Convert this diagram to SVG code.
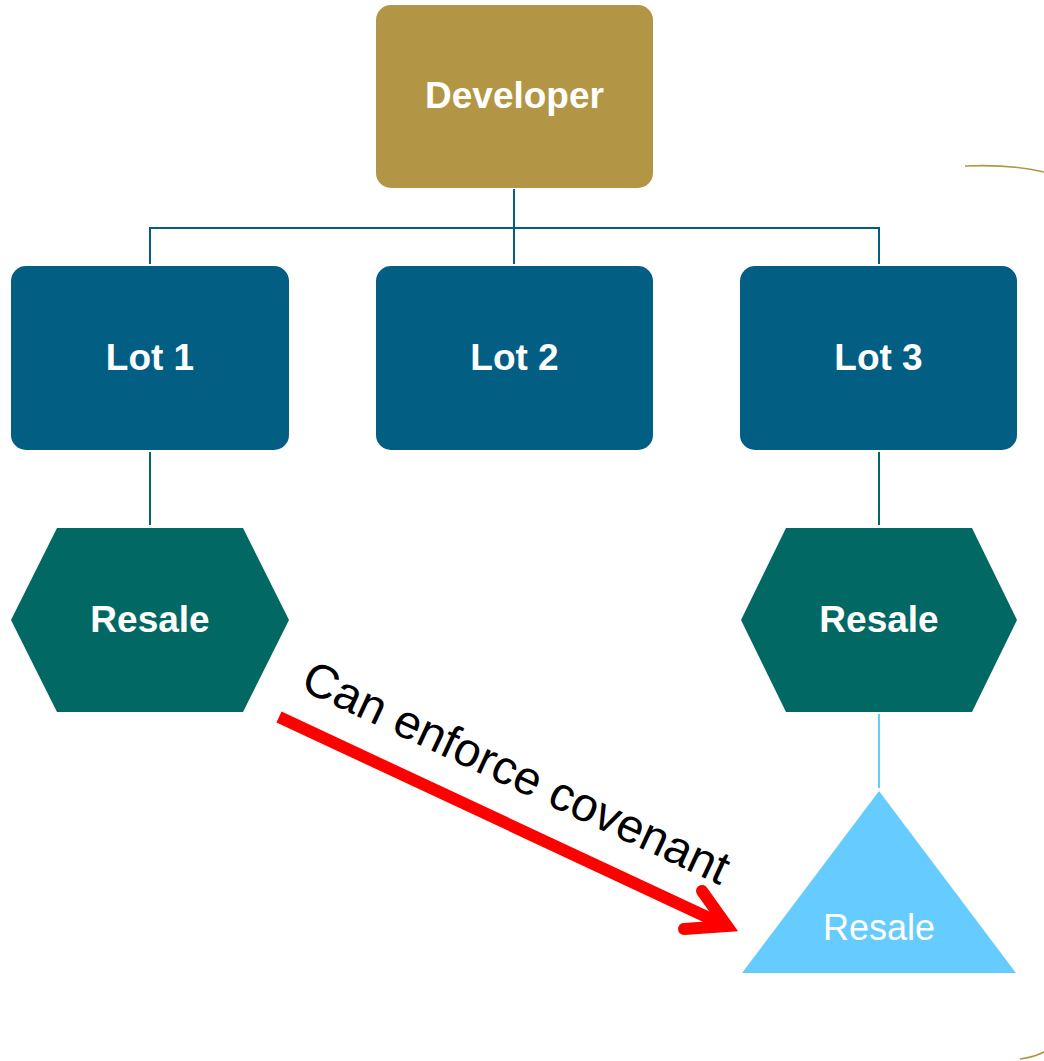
<svg xmlns="http://www.w3.org/2000/svg" width="1044" height="1061" viewBox="0 0 1044 1061">
<style>
.lbl{font-family:"Liberation Sans",Arial,sans-serif;font-size:37px;font-weight:bold;fill:#fff;text-anchor:middle}
.lbln{font-family:"Liberation Sans",Arial,sans-serif;font-size:36px;fill:#fff;text-anchor:middle}
.lot{fill:#025E83}
.hex{fill:#026864}
.con{stroke:#025E83;stroke-width:2;fill:none}
.tcon{stroke:#026864;stroke-width:2;fill:none}
</style>
<rect width="1044" height="1061" fill="#fff"/>
<g id="decor">
<path d="M965,166 Q1010,164 1044,172" stroke="#B39645" stroke-width="1.6" fill="none"/>
<path d="M1020,1059 Q1034,1057 1044,1052" stroke="#B39645" stroke-width="1.6" fill="none"/>
</g>
<g id="connectors">
<path class="con" d="M514,189 V264 M150,264 V228 H879 V264"/>
<path class="tcon" d="M150,452 V525 M879,452 V525"/>
<path d="M879,714 V788" stroke="#66CCFF" stroke-width="2" fill="none"/>
<path d="M279,717 L724,925" stroke="#FF0000" stroke-width="12" fill="none"/>
<path d="M702,891 L727,926 L684,929" stroke="#FF0000" stroke-width="12" stroke-linecap="round" stroke-linejoin="miter" fill="none"/>
</g>
<g id="developer">
<rect x="376" y="5" width="277" height="183" rx="15" fill="#B39645"/>
<text class="lbl" x="514.5" y="108">Developer</text>
</g>
<g id="lot1">
<rect class="lot" x="11" y="266" width="278" height="184" rx="15"/>
<text class="lbl" x="150" y="370">Lot 1</text>
</g>
<g id="lot2">
<rect class="lot" x="376" y="266" width="277" height="184" rx="15"/>
<text class="lbl" x="514.5" y="370">Lot 2</text>
</g>
<g id="lot3">
<rect class="lot" x="740" y="266" width="277" height="184" rx="15"/>
<text class="lbl" x="878.5" y="370">Lot 3</text>
</g>
<g id="resale1">
<polygon class="hex" points="57,528 243,528 289,620 243,712 57,712 11,620"/>
<text class="lbl" x="150" y="632">Resale</text>
</g>
<g id="resale3">
<polygon class="hex" points="786,528 972,528 1017,620 972,712 786,712 741,620"/>
<text class="lbl" x="879" y="632">Resale</text>
</g>
<g id="resale-tri">
<polygon points="879,791 1016,973 742,973" fill="#66CCFF"/>
<text class="lbln" x="879" y="940">Resale</text>
</g>
<g id="label">
<text x="0" y="0" transform="translate(299,689) rotate(25)" font-family="Liberation Sans, Arial, sans-serif" font-size="47.5" fill="#000">Can enforce covenant</text>
</g>
</svg>
